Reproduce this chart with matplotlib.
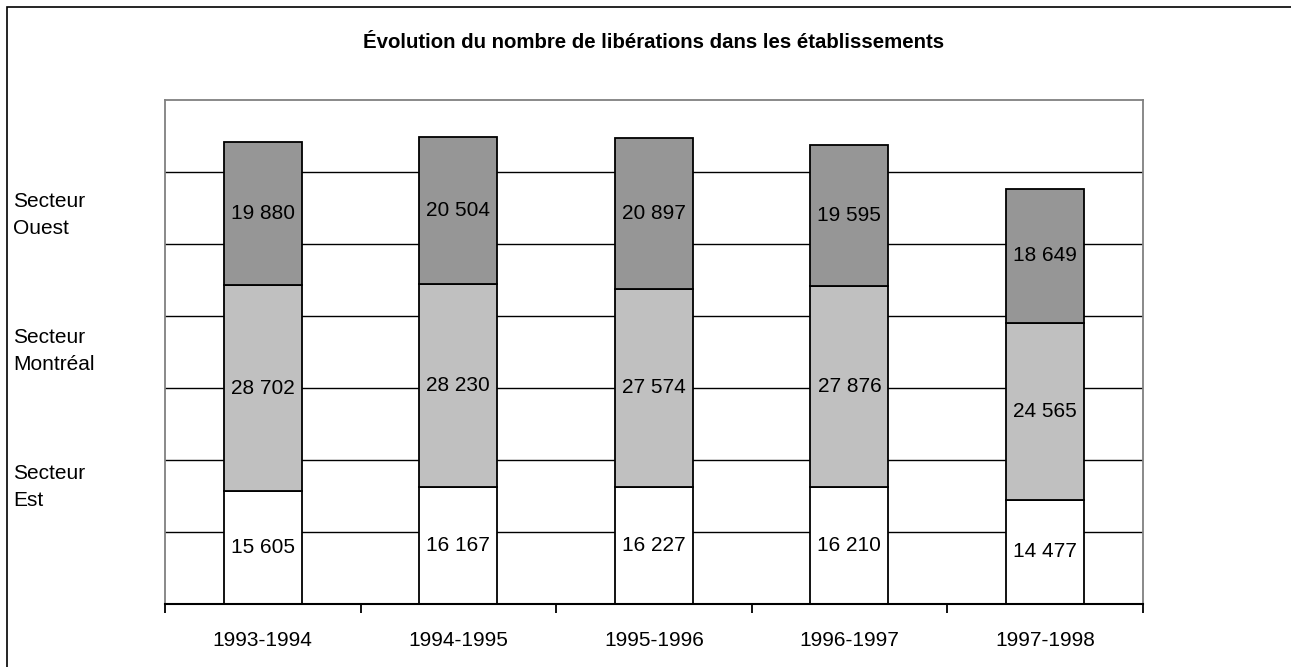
import numpy as np
import matplotlib.pyplot as plt
from matplotlib.patches import Rectangle

plt.rcParams['font.family'] = ['Liberation Sans', 'DejaVu Sans']

periodes = ['1993-1994', '1994-1995', '1995-1996', '1996-1997', '1997-1998']
est = [15605, 16167, 16227, 16210, 14477]
montreal = [28702, 28230, 27574, 27876, 24565]
ouest = [19880, 20504, 20897, 19595, 18649]

secteurs = ['Secteur\nEst', 'Secteur\nMontréal', 'Secteur\nOuest']
couleurs = ['#FFFFFF', '#C0C0C0', '#969696']

def fmt(v):
    return f"{v:,}".replace(",", " ")

fig = plt.figure(figsize=(12.91, 6.67), dpi=100)
ax = fig.add_axes([165/1291, 1 - 603.7/667, (1142.7 - 165)/1291, (603.7 - 100)/667])

x = np.arange(len(periodes))
bas = np.zeros(len(periodes))
for vals, coul in zip([est, montreal, ouest], couleurs):
    bars = ax.bar(x, vals, width=0.4, bottom=bas, color=coul,
                  edgecolor='black', linewidth=1.3, zorder=3)
    ax.bar_label(bars, labels=[fmt(v) for v in vals], label_type='center',
                 fontsize=15, color='black')
    bas += np.array(vals)

ax.set_xlim(-0.5, len(periodes) - 0.5)
ax.set_ylim(0, 70000)
ax.set_yticks(np.arange(10000, 70000, 10000))
ax.yaxis.grid(True, color='black', linewidth=1.0, zorder=0)
ax.tick_params(axis='y', left=False, labelleft=False)

ax.set_xticks(x)
ax.set_xticklabels(periodes, fontsize=15)
ax.set_xticks(np.arange(-0.5, len(periodes), 1.0), minor=True)
ax.tick_params(axis='x', which='major', length=0, pad=20)
ax.tick_params(axis='x', which='minor', length=6.5, width=1.3, color='black', direction='out')

for s in ['top', 'left', 'right']:
    ax.spines[s].set_color('#808080')
    ax.spines[s].set_linewidth(1.3)
ax.spines['bottom'].set_color('black')
ax.spines['bottom'].set_linewidth(1.5)
ax.spines['bottom'].set_zorder(4)

# libellés des secteurs à gauche, alignés sur le milieu des segments
ypos = [487, 351, 215]
for lab, yp in zip(secteurs, ypos):
    fig.text(13/1291, 1 - yp/667, lab, ha='left', va='center', fontsize=15,
             linespacing=1.5)

fig.text((165 + 1142.7)/2/1291, 1 - 42/667,
         'Évolution du nombre de libérations dans les établissements',
         ha='center', va='center', fontsize=14.7, fontweight='bold')

# cadre du graphique
fig.patches.append(Rectangle((7/1291, -0.1), 1.2, 1 - 7/667 + 0.1,
                             transform=fig.transFigure, fill=False,
                             edgecolor='black', linewidth=1.2))

fig.savefig('out.png', dpi=100)
